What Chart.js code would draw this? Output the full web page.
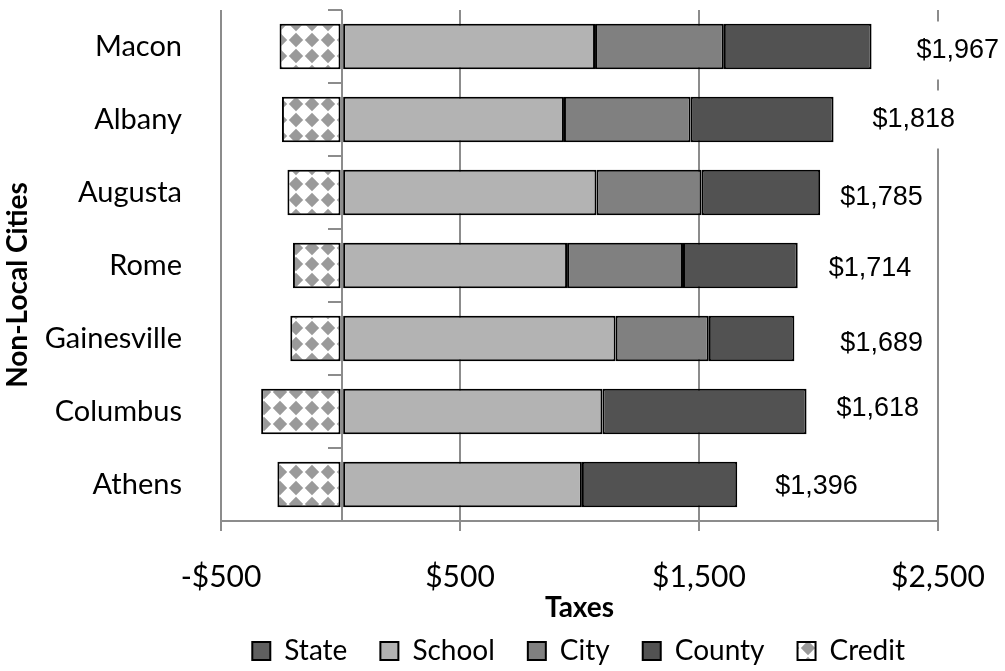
<!DOCTYPE html>
<html>
<head>
<meta charset="utf-8">
<script src="https://cdn.jsdelivr.net/npm/chart.js@4.4.0/dist/chart.umd.min.js"></script>
<style>
    html, body { margin: 0; padding: 0; background: #fff; }
    #wrap { width: 1005px; height: 671px; }
</style>
</head>
<body>
<div id="wrap"><canvas id="tax-chart" width="1005" height="671"></canvas></div>
<script>
// Property tax by component, per city
const cities = ['Macon', 'Albany', 'Augusta', 'Rome', 'Gainesville', 'Columbus', 'Athens'];
const state  = [11, 11, 11, 11, 11, 11, 11];
const school = [1054, 924, 1060, 937, 1140, 1085, 999];
const city   = [539, 530, 440, 485, 390, 0, 0];
const county = [618, 598, 496, 480, 358, 854, 650];
const credit = [-255, -245, -222, -199, -210, -332, -264];
const xTicks = [-500, 500, 1500, 2500];

// where the total sits relative to the bar end (px)
const labelNudge = [[45, 4], [39, 0], [20, 5], [31, 3], [46, 5], [30, -3], [38, 2]];

const net = cities.map((c, i) => state[i] + school[i] + city[i] + county[i] + credit[i]);

function money(v) {
    const s = '$' + Math.abs(v).toLocaleString('en-US');
    return v < 0 ? '-' + s : s;
}

const canvas = document.getElementById('tax-chart');
const ctx = canvas.getContext('2d');

// white tile with a grey diamond, repeated for the credit bars
function diamondPattern() {
    const c = document.createElement('canvas');
    c.width = 16; c.height = 16;
    const g = c.getContext('2d');
    g.fillStyle = '#fff';
    g.fillRect(0, 0, 16, 16);
    g.fillStyle = '#9a9a9a';
    g.beginPath();
    g.moveTo(8, 0.8); g.lineTo(15.2, 8); g.lineTo(8, 15.2); g.lineTo(0.8, 8);
    g.closePath();
    g.fill();
    return ctx.createPattern(c, 'repeat');
}

const zeroAxis = {
    id: 'zeroAxis',
    afterDatasetsDraw(chart) {
        const { ctx, chartArea, scales: { x, y } } = chart;
        const x0 = Math.round(x.getPixelForValue(0)) + 1;
        ctx.save();
        ctx.strokeStyle = '#8c8c8c';
        ctx.lineWidth = 2;
        ctx.beginPath();
        ctx.moveTo(x0, chartArea.top);
        ctx.lineTo(x0, chartArea.bottom);
        for (let i = 0; i < cities.length; i++) {
            const yb = i === 0 ? chartArea.top : (y.getPixelForValue(i - 1) + y.getPixelForValue(i)) / 2;
            ctx.moveTo(x0 - 14, yb);
            ctx.lineTo(x0, yb);
        }
        ctx.stroke();

        // net totals to the right of each bar
        ctx.font = '27px "Liberation Sans", Arial, sans-serif';
        ctx.textBaseline = 'middle';
        ctx.textAlign = 'left';
        cities.forEach((c, i) => {
            const end = x.getPixelForValue(state[i] + school[i] + city[i] + county[i]);
            const tx = end + labelNudge[i][0];
            const ty = y.getPixelForValue(i) + labelNudge[i][1];
            const txt = money(net[i]);
            const w = ctx.measureText(txt).width;
            ctx.fillStyle = '#fff';
            ctx.fillRect(tx - 6, ty - 29, w + 12, 58);
            ctx.fillStyle = '#000';
            ctx.fillText(txt, tx, ty);
        });
        ctx.restore();
    },
    afterDraw(chart) {
        const { ctx } = chart;
        ctx.save();
        ctx.translate(18, 285);
        ctx.rotate(-Math.PI / 2);
        ctx.font = 'bold 28px Lato, sans-serif';
        ctx.textAlign = 'center';
        ctx.textBaseline = 'middle';
        ctx.fillStyle = '#000';
        ctx.fillText('Non-Local Cities', 0, 0);
        ctx.restore();
    }
};

const barStyle = { borderColor: '#000', borderWidth: 2, borderSkipped: false };

new Chart(ctx, {
    type: 'bar',
    data: {
        labels: cities,
        datasets: [
            { label: 'State',  data: state,  backgroundColor: '#5f5f5f', ...barStyle },
            { label: 'School', data: school, backgroundColor: '#b3b3b3', ...barStyle },
            { label: 'City',   data: city,   backgroundColor: '#808080', ...barStyle },
            { label: 'County', data: county, backgroundColor: '#525252', ...barStyle },
            { label: 'Credit', data: credit, backgroundColor: diamondPattern(), ...barStyle }
        ]
    },
    options: {
        indexAxis: 'y',
        responsive: false,
        animation: false,
        layout: { padding: { top: 10, right: 67, left: 0, bottom: -4 } },
        datasets: { bar: { barPercentage: 0.62, categoryPercentage: 1 } },
        scales: {
            x: {
                stacked: true,
                min: -500,
                max: 2500,
                afterBuildTicks: s => { s.ticks = xTicks.map(v => ({ value: v })); },
                afterFit: s => { s.height = 83; s.paddingLeft = 0; s.paddingRight = 0; },
                grid: { color: '#8c8c8c', lineWidth: 2, tickLength: 10 },
                border: { color: '#8c8c8c', width: 2 },
                ticks: {
                    padding: 28, color: '#000', maxRotation: 0, autoSkip: false,
                    font: { family: 'Lato', size: 30 },
                    callback: v => money(v)
                },
                title: {
                    display: true, text: 'Taxes', color: '#000',
                    font: { family: 'Lato', size: 28, weight: 'bold' },
                    padding: { top: 0, bottom: -21 }
                }
            },
            y: {
                stacked: true,
                afterFit: s => { s.width = 221; s.paddingTop = 0; s.paddingBottom = 0; },
                grid: { display: false },
                border: { display: false },
                ticks: { padding: 31, color: '#000', font: { family: 'Lato', size: 29 } }
            }
        },
        plugins: {
            legend: {
                position: 'bottom',
                align: 'end',
                labels: {
                    boxWidth: 18, boxHeight: 18, padding: 33, color: '#000',
                    font: { family: 'Lato', size: 28 }
                }
            },
            tooltip: { enabled: false }
        }
    },
    plugins: [zeroAxis]
});
</script>
</body>
</html>
